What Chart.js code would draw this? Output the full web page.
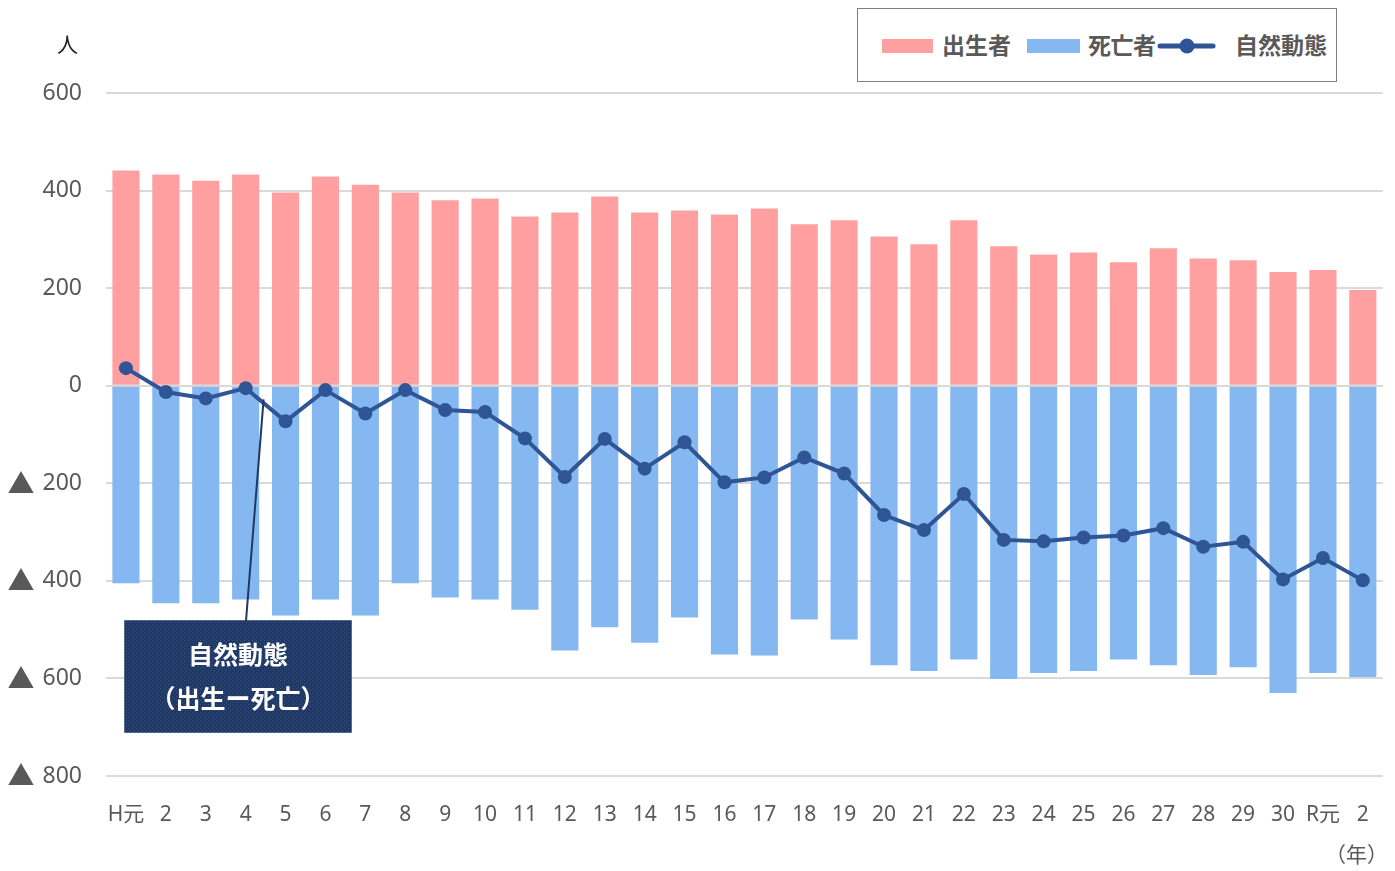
<!DOCTYPE html>
<html><head><meta charset="utf-8">
<script src="https://cdn.jsdelivr.net/npm/chart.js@4.4.1/dist/chart.umd.min.js"></script>
<style>
html,body{margin:0;padding:0;background:#fff;}
#wrap{position:relative;width:1395px;height:871px;overflow:hidden;}
#c{position:absolute;left:0;top:0;}
.lg{position:absolute;left:857px;top:8px;width:480px;height:74px;border:1.5px solid #7f7f7f;box-sizing:border-box;background:#fff;}
.sw{position:absolute;height:14px;top:30px;}
.lt{position:absolute;top:20px;font:bold 23px "Noto Sans CJK JP","Noto Sans",sans-serif;color:#595959;line-height:30px;white-space:nowrap;}
.txt{position:absolute;font:21px "Noto Sans CJK JP","Noto Sans",sans-serif;white-space:nowrap;}
</style></head>
<body><div id="wrap">
<canvas id="c" width="1395" height="871"></canvas>
<div class="lg">
  <div class="sw" style="left:24px;width:51px;background:#FF9F9F"></div>
  <div class="lt" style="left:84px">出生者</div>
  <div class="sw" style="left:169px;width:53px;background:#85B7F0"></div>
  <div class="lt" style="left:230px;letter-spacing:-0.5px">死亡者</div>
  <svg style="position:absolute;left:299px;top:26px" width="60" height="22"><line x1="3" y1="11" x2="56" y2="11" stroke="#2F5597" stroke-width="5" stroke-linecap="round"/><circle cx="30" cy="11" r="7.5" fill="#2F5597"/></svg>
  <div class="lt" style="left:377px">自然動態</div>
</div>
<div class="txt" style="left:57px;top:28px;color:#222">人</div>
<div class="txt" style="left:1325px;top:838px;color:#595959">（年）</div>
</div>
<script>
const categories = ["H元","2","3","4","5","6","7","8","9","10","11","12","13","14","15","16","17","18","19","20","21","22","23","24","25","26","27","28","29","30","R元","2"];
const births = [441,433,420,433,396,429,412,396,380,384,347,355,388,355,359,351,363,331,339,306,290,339,286,269,273,253,282,261,257,233,237,196];
const deaths = [-405,-446,-446,-438,-471,-438,-471,-405,-434,-438,-459,-543,-495,-527,-475,-551,-553,-479,-520,-573,-585,-561,-601,-589,-585,-561,-573,-593,-577,-630,-589,-597];
const natural = [36,-13,-26,-5,-73,-9,-57,-9,-50,-54,-108,-187,-109,-170,-116,-198,-188,-147,-180,-265,-296,-222,-316,-319,-311,-307,-292,-330,-320,-397,-353,-399];
const yTicks = [600,400,200,0,-200,-400,-600,-800];
const negMark = '▲';

const FONT = '"Noto Sans CJK JP","Noto Sans",sans-serif';
const TICKFONT = '"Noto Sans","Noto Sans CJK JP",sans-serif';

function makePattern(ctx){
  const p = document.createElement('canvas'); p.width = 4; p.height = 4;
  const g = p.getContext('2d');
  g.fillStyle = '#203864'; g.fillRect(0,0,4,4);
  g.fillStyle = '#3B5488'; g.fillRect(0,0,1,1); g.fillRect(2,2,1,1);
  return ctx.createPattern(p,'repeat');
}

const annot = {
  id:'annot',
  afterDraw(chart){
    const ctx = chart.ctx, xs = chart.scales.x, ys = chart.scales.y;
    // negative markers on y axis
    ctx.save();
    ctx.fillStyle = '#595959';
    ctx.font = '27px "Noto Sans CJK JP",sans-serif';
    ctx.textAlign = 'center'; ctx.textBaseline = 'middle';
    yTicks.filter(v=>v<0).forEach(v=>{ ctx.fillText(negMark, 21, ys.getPixelForValue(v)); });
    ctx.restore();

    const bx = 125, by = 621, bw = 226, bh = 111;
    const tx = xs.getPixelForValue(3) + 0.45*(xs.getPixelForValue(4)-xs.getPixelForValue(3));
    const ty = ys.getPixelForValue(-28);
    ctx.save();
    ctx.strokeStyle = '#1F3864'; ctx.lineWidth = 2;
    ctx.beginPath(); ctx.moveTo(bx+121, by); ctx.lineTo(tx, ty); ctx.stroke();
    ctx.fillStyle = makePattern(ctx);
    ctx.fillRect(bx, by, bw, bh);
    ctx.strokeStyle = '#1F3864'; ctx.lineWidth = 1.5;
    ctx.strokeRect(bx, by, bw, bh);
    ctx.fillStyle = '#fff';
    ctx.font = 'bold 25px ' + FONT;
    ctx.textAlign = 'center'; ctx.textBaseline = 'middle';
    ctx.fillText('自然動態', bx+bw/2, 654);
    ctx.fillText('（出生ー死亡）', bx+bw/2, 698);
    ctx.restore();
  }
};

new Chart(document.getElementById('c'), {
  data:{
    labels: categories,
    datasets:[
      {type:'line', label:'自然動態', data:natural, borderColor:'#2F5597', backgroundColor:'#2F5597', borderWidth:4, pointRadius:7, pointHoverRadius:7, pointBorderWidth:0, tension:0, order:0},
      {type:'bar', label:'出生者', data:births, backgroundColor:'#FF9F9F', grouped:false, barPercentage:0.68, categoryPercentage:1, order:1},
      {type:'bar', label:'死亡者', data:deaths, backgroundColor:'#85B7F0', grouped:false, barPercentage:0.68, categoryPercentage:1, order:2}
    ]
  },
  options:{
    responsive:false, animation:false,
    devicePixelRatio:1,
    layout:{padding:{top:93,right:11,left:0,bottom:0}},
    plugins:{legend:{display:false}, tooltip:{enabled:false}},
    scales:{
      x:{
        grid:{display:false, drawTicks:false}, border:{display:false},
        ticks:{color:'#595959', font:{family:TICKFONT, size:21}, padding:26, maxRotation:0, autoSkip:false},
        afterFit(s){ s.height = 95; }
      },
      y:{
        min:-800, max:600,
        afterBuildTicks(s){ s.ticks = yTicks.map(v=>({value:v})); },
        grid:{color:'#D9D9D9', lineWidth:2, drawTicks:false}, border:{display:false},
        ticks:{color:'#595959', font:{family:TICKFONT, size:23}, padding:24,
          callback:(v)=> String(Math.abs(v))},
        afterFit(s){ s.width = 106; }
      }
    }
  },
  plugins:[annot]
});
</script>
</body></html>
